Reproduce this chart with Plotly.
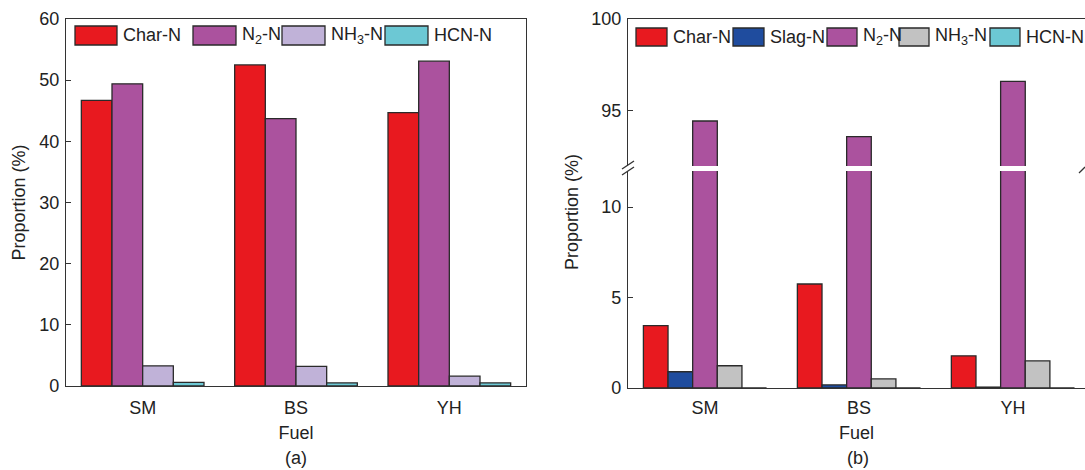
import plotly.graph_objects as go

W, H = 1085, 470

fuels = ["SM", "BS", "YH"]

# Panel (a)
a_names = ["Char-N", "N<sub>2</sub>-N", "NH<sub>3</sub>-N", "HCN-N"]
a_char = [46.7, 52.5, 44.7]
a_n2 = [49.4, 43.7, 53.1]
a_nh3 = [3.3, 3.2, 1.6]
a_hcn = [0.6, 0.5, 0.5]
a_colors = ["#E8191F", "#AB529E", "#C0B2D8", "#6CC8D4"]

# Panel (b)
b_names = ["Char-N", "Slag-N", "N<sub>2</sub>-N", "NH<sub>3</sub>-N", "HCN-N"]
b_char = [3.45, 5.75, 1.78]
b_slag = [0.9, 0.17, 0.05]
b_n2 = [94.45, 93.6, 96.6]
b_nh3 = [1.23, 0.5, 1.5]
b_hcn = [0.0, 0.0, 0.0]
b_colors = ["#E8191F", "#1F4C9E", "#AB529E", "#C2C2C2", "#6CC8D4"]

a_ticks = [0, 10, 20, 30, 40, 50, 60]
b_low_ticks = [0, 5, 10]
b_high_ticks = [95, 100]

FONT = "Liberation Sans, Arial, sans-serif"
TXT = "#222222"
AX = "#333333"
OUT = "#2a2a2a"
FS = 18


def fx(px):
    return px / W


def fy(py):
    return 1 - py / H


fig = go.Figure()

a_series = [a_char, a_n2, a_nh3, a_hcn]
for name, vals, col in zip(a_names, a_series, a_colors):
    fig.add_trace(go.Bar(x=fuels, y=vals, name=name, marker=dict(color=col, line=dict(color=OUT, width=1.3)),
                         xaxis="x", yaxis="y", offsetgroup=name + "a", showlegend=False))

b_series = [b_char, b_slag, b_n2, b_nh3, b_hcn]
for name, vals, col in zip(b_names, b_series, b_colors):
    for xa, ya in (("x2", "y2"), ("x3", "y3")):
        fig.add_trace(go.Bar(x=fuels, y=vals, name=name, marker=dict(color=col, line=dict(color=OUT, width=1.3)),
                             xaxis=xa, yaxis=ya, offsetgroup=name + "b", showlegend=False))

tickfont = dict(family=FONT, size=FS, color=TXT)
common_y = dict(showline=True, linecolor=AX, linewidth=1.3, ticks="inside", ticklen=5, tickcolor=AX,
                tickwidth=1.3, showgrid=False, zeroline=False, tickfont=tickfont, automargin=False,
                ticklabelstandoff=2)
common_x = dict(showline=True, linecolor=AX, linewidth=1.3, ticks="", showgrid=False, zeroline=False,
                tickfont=tickfont, type="category", automargin=False)

y_a_dom = [fy(386), fy(19)]
y_bl_dom = [fy(388), fy(171)]
y_bh_dom = [fy(166), fy(19)]

fig.update_layout(
    width=W, height=H,
    margin=dict(l=0, r=0, t=0, b=0),
    paper_bgcolor="white", plot_bgcolor="white",
    barmode="group", bargap=0.2, bargroupgap=0,
    font=dict(family=FONT, size=FS, color=TXT),
    xaxis=dict(domain=[fx(66), fx(526)], anchor="y", mirror=True, range=[-0.5, 2.5], ticklabelstandoff=5,
               title=dict(text="Fuel", font=tickfont, standoff=9), **common_x),
    yaxis=dict(domain=y_a_dom, anchor="x", range=[0, 60], tickvals=a_ticks, mirror=True,
               title=dict(text="Proportion (%)", font=tickfont, standoff=8), **common_y),
    xaxis2=dict(domain=[fx(628), 1.0], anchor="y2", range=[-0.5, 2.468], ticklabelstandoff=3,
                title=dict(text="Fuel", font=tickfont, standoff=9), **common_x),
    yaxis2=dict(domain=y_bl_dom, anchor="x2", range=[0, 12], tickvals=b_low_ticks, **common_y),
    xaxis3=dict(domain=[fx(628), 1.0], anchor="y3", matches="x2", side="top", showticklabels=False,
                **common_x),
    yaxis3=dict(domain=y_bh_dom, anchor="x3", range=[92, 100], tickvals=b_high_ticks, **common_y),
)
fig.layout.xaxis3.mirror = False

annotations = []
shapes = []

# right panel y title
annotations.append(dict(x=fx(572), y=fy(212), xref="paper", yref="paper", text="Proportion (%)",
                        textangle=-90, showarrow=False, font=tickfont, xanchor="center", yanchor="middle"))
# panel labels
annotations.append(dict(x=fx(296), y=fy(458), xref="paper", yref="paper", text="(a)", showarrow=False,
                        font=tickfont, xanchor="center", yanchor="middle"))
annotations.append(dict(x=fx(858), y=fy(458), xref="paper", yref="paper", text="(b)", showarrow=False,
                        font=tickfont, xanchor="center", yanchor="middle"))


# custom legends
def legend(items, colors, swatches, ytop, ybot):
    for (name, col, (x0, x1)) in zip(items, colors, swatches):
        shapes.append(dict(type="rect", xref="paper", yref="paper", x0=fx(x0), x1=fx(x1), y0=fy(ybot), y1=fy(ytop),
                           fillcolor=col, line=dict(color=OUT, width=1.3)))
        annotations.append(dict(x=fx(x1 + 4), y=fy((ytop + ybot) / 2), xref="paper", yref="paper", text=name,
                                showarrow=False, font=tickfont, xanchor="left", yanchor="middle"))


legend(a_names, a_colors, [(75, 117), (193, 236), (282, 325), (385, 428)], 26, 45)
legend(b_names, b_colors, [(636, 667), (733, 764), (827, 857), (899, 929), (990, 1020)], 28, 46)

# axis break marks
for dy in (-3, 3):
    shapes.append(dict(type="line", xref="paper", yref="paper", x0=fx(622), x1=fx(634),
                       y0=fy(172 + dy), y1=fy(164 + dy), line=dict(color=AX, width=1.3)))
shapes.append(dict(type="line", xref="paper", yref="paper", x0=fx(1079), x1=fx(1085),
                   y0=fy(173), y1=fy(167), line=dict(color=AX, width=1.3)))

fig.update_layout(annotations=annotations, shapes=shapes)

fig.write_html("out.html")
